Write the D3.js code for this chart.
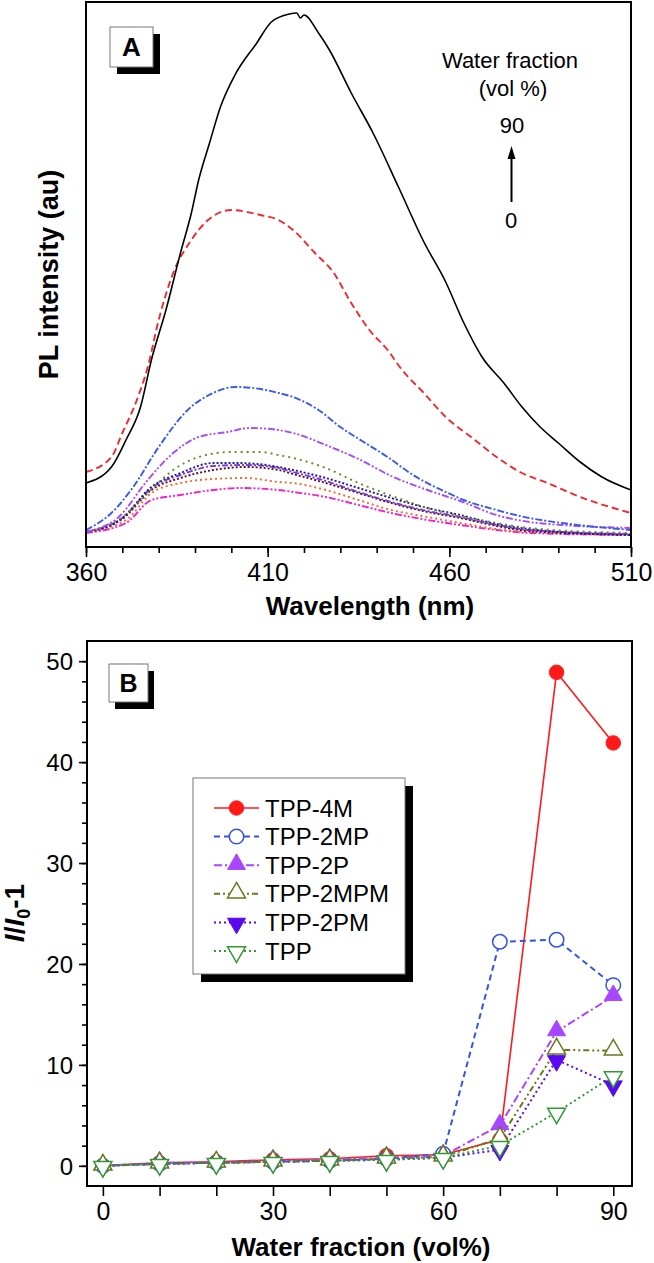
<!DOCTYPE html>
<html><head><meta charset="utf-8">
<script src="https://cdn.jsdelivr.net/npm/d3@7"></script>
<style>
body{margin:0;background:#fff}
svg{display:block}
text{font-family:"Liberation Sans",Arial,Helvetica,sans-serif;fill:#000}
</style>
</head><body>
<svg id="chart" width="654" height="1263"></svg>
<script>
// ---------------- Panel A data (PL spectra, arbitrary units) ----------------
const wavelengthTicks = [360, 410, 460, 510];
const waterFractionsA = [0, 10, 20, 30, 40, 50, 60, 70, 80, 90];
const pl0  = [[360,14],[371,24],[378,47],[386,52],[395,57],[402,59],[413,57],[417,55],[426,50],[435,42],[444,34],[454,27],[463,22],[473,17],[482,14],[510,12]];
const pl10 = [[360,15],[371,27],[378,54],[386,64],[395,68],[404,69],[413,65],[417,64],[426,57],[435,47],[444,37],[454,30],[463,24],[473,18],[482,15],[510,13]];
const pl20 = [[360,15],[370,28],[378,57],[386,69],[395,77],[404,80],[413,77],[417,73],[426,64],[435,54],[444,44],[454,35],[463,29],[473,21],[482,16],[510,12]];
const pl30 = [[360,15],[370,29],[378,59],[386,72],[395,81],[404,82],[413,79],[417,75],[426,66],[435,55],[444,45],[454,36],[463,30],[473,22],[482,17],[510,13]];
const pl40 = [[360,15],[370,29],[378,60],[386,74],[395,84],[402,84],[413,80],[417,77],[426,69],[435,59],[444,49],[454,39],[463,32],[473,23],[482,18],[510,12]];
const pl50 = [[360,15],[370,30],[377,54],[384,77],[391,90],[400,95],[408,95],[413,92],[417,89],[426,79],[435,64],[445,50],[454,39],[463,31],[473,24],[482,19],[510,14]];
const pl60 = [[360,15],[369,30],[377,67],[384,94],[391,110],[399,115],[405,119],[413,117],[417,114],[426,102],[435,88],[444,71],[454,57],[463,46],[473,32],[482,25],[491,22],[510,19]];
const pl70 = [[360,17],[367,34],[373,60],[380,100],[388,137],[395,154],[401,160],[408,158],[413,154],[417,150],[424,137],[430,120],[436,106],[443,90],[450,72],[459,55],[464,47],[473,37],[482,29],[491,24],[510,17]];
const pl80 = [[360,75],[367,90],[370,114],[374,147],[377,180],[380,227],[384,274],[389,307],[393,325],[400,337],[408,332],[413,327],[417,317],[423,294],[428,275],[433,244],[438,217],[443,197],[447,177],[453,154],[459,130],[466,110],[473,90],[480,74],[487,64],[496,50],[510,34]];
const pl90 = [[360,64],[367,80],[371,107],[375,140],[378,187],[382,237],[386,294],[389,334],[391,367],[394,404],[397,440],[401,472],[407,504],[411,525],[416,533],[418,534],[419,529],[420,532],[424,514],[427,497],[433,454],[439,414],[446,360],[453,305],[459,265],[464,224],[469,190],[475,164],[480,140],[485,120],[490,104],[496,85],[502,70],[510,57]];
const spectra = [pl0, pl10, pl20, pl30, pl40, pl50, pl60, pl70, pl80, pl90];

// ---------------- Panel B data (I/I0 - 1) ----------------
const waterFraction = [0, 10, 20, 30, 40, 50, 60, 70, 80, 90];
const seriesNames = ["TPP-4M", "TPP-2MP", "TPP-2P", "TPP-2MPM", "TPP-2PM", "TPP"];
const tpp4M   = [0, 0.3, 0.4, 0.6, 0.7, 1.0, 1.1, 2.6, 48.9, 41.9];
const tpp2MP  = [0, 0.2, 0.3, 0.4, 0.5, 0.7, 1.2, 22.2, 22.4, 17.9];
const tpp2P   = [0, 0.3, 0.3, 0.5, 0.6, 0.8, 1.0, 4.0, 13.3, 16.8];
const tpp2MPM = [0, 0.2, 0.3, 0.4, 0.5, 0.7, 0.9, 2.7, 11.5, 11.4];
const tpp2PM  = [0, 0.2, 0.3, 0.4, 0.5, 0.6, 0.8, 1.6, 10.5, 8.0];
const tpp     = [0, 0.2, 0.3, 0.4, 0.5, 0.6, 0.8, 2.0, 5.3, 8.9];
const seriesValues = [tpp4M, tpp2MP, tpp2P, tpp2MPM, tpp2PM, tpp];
const yTicksB = [0, 10, 20, 30, 40, 50];
const xTicksB = [0, 30, 60, 90];

// ---------------- styles ----------------
const specColors = ["#ee22cc","#f06a28","#5a1020","#7a3ae0","#20189a","#6a8a2a","#a64cf0","#3a5ae8","#ee2a30","#000000"];
const specDash = ["7,2,2,2,2,2","2,3","2,2","6,2,2,2","2,2","2,4","7,2,2,2,2,2","7,2,2,2","7,4",null];
const serColors = ["#ff1a1a","#3355e0","#a845ff","#667a1a","#5a08f0","#339a33"];
const serDash = [null,"6,4","8,3,2,3","6,3,2,3,2,3","2,3","2,3"];
const serSymbol = ["circle","circle","up","up","down","down"];
const serFilled = [true,false,true,false,true,false];

const svg = d3.select("#chart");
const font = '"Liberation Sans",Arial,Helvetica,sans-serif';

function labelBox(g, x, y, w, h, off, txt, fs) {
  g.append("rect").attr("x", x+off[0]).attr("y", y+off[1]).attr("width", w).attr("height", h).attr("fill", "#000");
  g.append("rect").attr("x", x).attr("y", y).attr("width", w).attr("height", h).attr("fill", "#fff").attr("stroke", "#777").attr("stroke-width", 1);
  g.append("text").attr("x", x + w/2).attr("y", y + h/2 + fs*0.36).attr("text-anchor", "middle")
    .attr("font-weight", "bold").attr("font-size", fs).text(txt);
}

// ================= Panel A =================
const A = {l: 86, r: 631, t: 2, b: 547};
const xA = d3.scaleLinear().domain([360, 510]).range([A.l, A.r]);
const yA = d3.scaleLinear().domain([0, 545]).range([A.b, A.t]);
const gA = svg.append("g");
svg.append("defs").append("clipPath").attr("id","clipA").append("rect")
  .attr("x", A.l).attr("y", A.t).attr("width", A.r-A.l).attr("height", A.b-A.t);

const lineA = d3.line().x(d => xA(d[0])).y(d => yA(d[1])).curve(d3.curveMonotoneX);
const curvesA = gA.append("g").attr("clip-path","url(#clipA)");
spectra.forEach((s, i) => {
  curvesA.append("path").datum(s).attr("d", lineA).attr("fill", "none")
    .attr("stroke", specColors[i]).attr("stroke-width", i === 9 ? 1.6 : 1.9)
    .attr("stroke-dasharray", specDash[i]);
});

// axis A (bottom) with minor ticks
gA.append("g").attr("transform", `translate(0,${A.b})`)
  .call(d3.axisBottom(xA).tickValues(d3.range(360, 511, 10)).tickSize(6).tickFormat(""))
  .call(g => g.select(".domain").remove())
  .call(g => g.selectAll("line").attr("stroke-width", 1.6));
gA.append("g").attr("transform", `translate(0,${A.b})`)
  .call(d3.axisBottom(xA).tickValues(wavelengthTicks).tickSize(10).tickPadding(6).tickFormat(d3.format("d")))
  .call(g => g.select(".domain").remove())
  .call(g => g.selectAll("line").attr("stroke-width", 1.6))
  .call(g => g.selectAll("text").attr("font-size", 25).attr("font-family", font).attr("fill", "#000"));
gA.append("rect").attr("x", A.l).attr("y", A.t).attr("width", A.r-A.l).attr("height", A.b-A.t)
  .attr("fill", "none").attr("stroke", "#000").attr("stroke-width", 2);

gA.append("text").attr("x", 370).attr("y", 615).attr("text-anchor", "middle")
  .attr("font-weight", "bold").attr("font-size", 26).text("Wavelength (nm)");
gA.append("text").attr("transform", `translate(58,${(A.t+A.b)/2}) rotate(-90)`).attr("text-anchor", "middle")
  .attr("font-weight", "bold").attr("font-size", 27).text("PL intensity (au)");

labelBox(gA, 110, 27, 43, 40, [7,7], "A", 26);

// annotation
gA.append("text").attr("x", 510).attr("y", 68).attr("text-anchor", "middle").attr("font-size", 22).text("Water fraction");
gA.append("text").attr("x", 513).attr("y", 96).attr("text-anchor", "middle").attr("font-size", 22).text("(vol %)");
gA.append("text").attr("x", 512).attr("y", 133).attr("text-anchor", "middle").attr("font-size", 22).text(d3.max(waterFractionsA));
gA.append("text").attr("x", 511).attr("y", 228).attr("text-anchor", "middle").attr("font-size", 22).text(d3.min(waterFractionsA));
gA.append("line").attr("x1", 511.5).attr("x2", 511.5).attr("y1", 202).attr("y2", 156).attr("stroke", "#000").attr("stroke-width", 2);
gA.append("path").attr("d", "M511.5,146 L507.5,159 L515.5,159 Z").attr("fill", "#000");

// ================= Panel B =================
const B = {l: 87, r: 632, t: 641, b: 1186};
const xB = d3.scaleLinear().domain([-2.8, 93.3]).range([B.l, B.r]);
const yB = d3.scaleLinear().domain([-2, 52]).range([B.b, B.t]);
const gB = svg.append("g");

gB.append("g").attr("transform", `translate(0,${B.b})`)
  .call(d3.axisBottom(xB).tickValues(d3.range(0, 91, 10)).tickSize(10).tickPadding(6)
    .tickFormat(d => xTicksB.includes(d) ? d : ""))
  .call(g => g.select(".domain").remove())
  .call(g => g.selectAll("line").attr("stroke-width", 1.6))
  .call(g => g.selectAll("text").attr("font-size", 25).attr("font-family", font).attr("fill", "#000"));
gB.append("g").attr("transform", `translate(${B.l},0)`)
  .call(d3.axisLeft(yB).tickValues(d3.range(0, 51, 2)).tickSize(5).tickFormat(""))
  .call(g => g.select(".domain").remove())
  .call(g => g.selectAll("line").attr("stroke-width", 1.6));
gB.append("g").attr("transform", `translate(${B.l},0)`)
  .call(d3.axisLeft(yB).tickValues(yTicksB).tickSize(8).tickPadding(6))
  .call(g => g.select(".domain").remove())
  .call(g => g.selectAll("line").attr("stroke-width", 1.6))
  .call(g => g.selectAll("text").attr("font-size", 24).attr("font-family", font).attr("fill", "#000").attr("dy", "0.36em"));
gB.append("rect").attr("x", B.l).attr("y", B.t).attr("width", B.r-B.l).attr("height", B.b-B.t)
  .attr("fill", "none").attr("stroke", "#000").attr("stroke-width", 2);

function symbolPath(kind) {
  if (kind === "circle") return d3.symbol().type(d3.symbolCircle).size(165)();
  return d3.symbol().type(d3.symbolTriangle).size(140)();
}
function drawMarker(g, i, cx, cy) {
  const fill = serFilled[i] ? serColors[i] : "#fff";
  const rot = serSymbol[i] === "down" ? 180 : 0;
  const dy = serSymbol[i] === "circle" ? 0 : (serSymbol[i] === "up" ? -1 : 1);
  g.append("path").attr("d", symbolPath(serSymbol[i]))
    .attr("transform", `translate(${cx},${cy + dy}) rotate(${rot})`)
    .attr("fill", fill).attr("stroke", serColors[i]).attr("stroke-width", serFilled[i] ? 1 : 1.5);
}

const lineB = d3.line().x((d, j) => xB(waterFraction[j])).y(d => yB(d));
seriesValues.forEach((vals, i) => {
  gB.append("path").datum(vals).attr("d", lineB).attr("fill", "none")
    .attr("stroke", serColors[i]).attr("stroke-width", i === 0 ? 1.6 : 2)
    .attr("stroke-dasharray", serDash[i]);
});
seriesValues.forEach((vals, i) => {
  vals.forEach((v, j) => drawMarker(gB, i, xB(waterFraction[j]), yB(v)));
});

gB.append("text").attr("x", 361).attr("y", 1256).attr("text-anchor", "middle")
  .attr("font-weight", "bold").attr("font-size", 26).text("Water fraction (vol%)");
const yl = gB.append("text").attr("transform", `translate(24,913) rotate(-90)`).attr("text-anchor", "middle")
  .attr("font-weight", "bold").attr("font-size", 28);
yl.append("tspan").attr("font-style", "italic").text("I");
yl.append("tspan").text("/");
yl.append("tspan").attr("font-style", "italic").text("I");
yl.append("tspan").attr("font-size", 18).attr("dy", 6).text("0");
yl.append("tspan").attr("dy", -6).text("-1");

labelBox(gB, 109, 664, 39, 38, [6,7], "B", 25);

// legend
const lg = gB.append("g");
lg.append("rect").attr("x", 201).attr("y", 786).attr("width", 212).attr("height", 196).attr("fill", "#000");
lg.append("rect").attr("x", 193).attr("y", 778).attr("width", 212).attr("height", 196).attr("fill", "#fff").attr("stroke", "#777").attr("stroke-width", 1);
seriesNames.forEach((name, i) => {
  const cy = 808 + i * 28.6;
  lg.append("line").attr("x1", 214).attr("x2", 259).attr("y1", cy).attr("y2", cy)
    .attr("stroke", serColors[i]).attr("stroke-width", i === 0 ? 1.6 : 2).attr("stroke-dasharray", serDash[i]);
  drawMarker(lg, i, 236.5, cy);
  lg.append("text").attr("x", 265).attr("y", cy + 8.5).attr("font-size", 24).text(name);
});
</script>
</body></html>
